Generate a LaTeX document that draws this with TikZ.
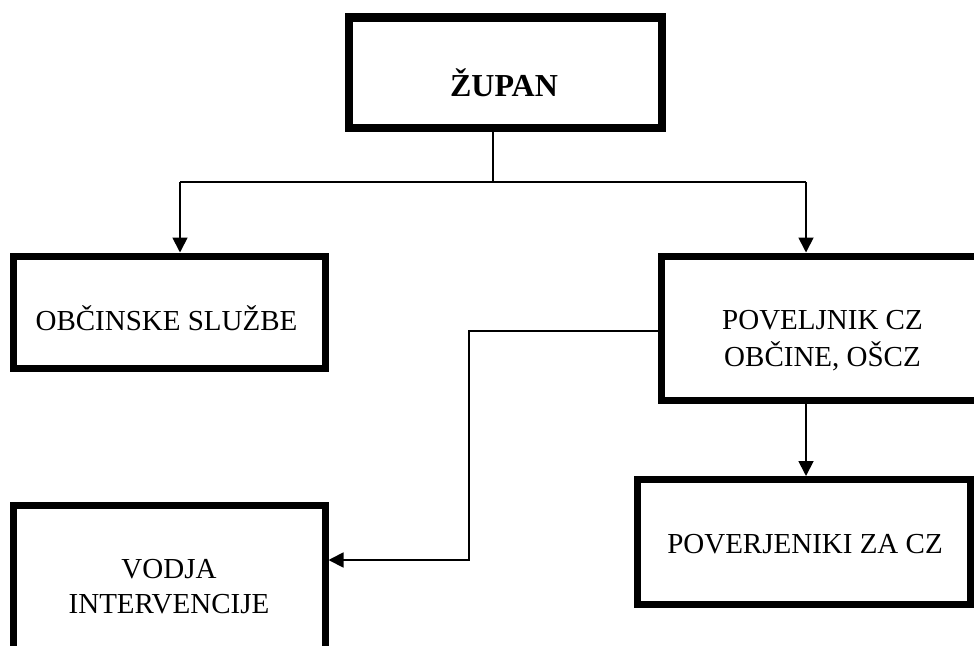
\documentclass[tikz,border=0pt]{standalone}
\usepackage{fontspec}
\setmainfont{Liberation Serif}
\usetikzlibrary{arrows.meta}
\tikzset{
  orgbox/.style={draw=black, line width=7pt, outer sep=3.5pt, inner sep=0pt, fill=white},
  topbox/.style={draw=black, line width=8.5pt, outer sep=4.25pt, inner sep=0pt, fill=white},
  lbl/.style={font=\fontsize{29pt}{35pt}\selectfont, anchor=base, inner sep=0pt},
  toplbl/.style={font=\fontsize{32pt}{38pt}\selectfont\bfseries, anchor=base, inner sep=0pt},
  conn/.style={line width=1.8pt, draw=black},
  arr/.style={conn, -{Triangle[length=15pt,width=15pt]}}
}
\begin{document}
\begin{tikzpicture}[x=1pt,y=-1pt]
\useasboundingbox (0,0) rectangle (974,645);
\clip (0,0) rectangle (974,645);
\fill[white] (0,0) rectangle (974,645);
% boxes
\node[topbox, minimum width=313pt, minimum height=110.5pt] (zupan) at (505.5,72.75) {};
\node[orgbox, minimum width=311.5pt, minimum height=112.5pt] (obc) at (169.25,312.25) {};
\node[orgbox, minimum width=321.5pt, minimum height=144pt] (pov) at (822.25,328) {};
\node[orgbox, minimum width=311.5pt, minimum height=147pt] (vodja) at (169.25,578.5) {};
\node[orgbox, minimum width=333pt, minimum height=125pt] (povj) at (804,542) {};
% texts
\node[toplbl] (tzupan) at (504,96.5) {ŽUPAN};
\node[lbl] (tobc) at (166.5,330) {OBČINSKE SLUŽBE};
\node[lbl] (tpov1) at (822.5,329) {POVELJNIK CZ};
\node[lbl] (tpov2) at (822.5,366) {OBČINE, OŠCZ};
\node[lbl] (tvod1) at (169,578) {VODJA};
\node[lbl] (tvod2) at (169,613) {INTERVENCIJE};
\node[lbl] (tpovj) at (805,553) {POVERJENIKI ZA CZ};
% connector coordinates
\coordinate (j) at (493,182);
\coordinate (ja) at (180,182);
\coordinate (jb) at (806,182);
\coordinate (d) at (806,400);
\coordinate (b1) at (469,331);
\coordinate (b2) at (469,560);
% connectors
\draw[conn] (zupan.south -| j) -- (j);
\draw[conn] (ja) -- (jb);
\draw[arr] (ja) -- (obc.north -| ja);
\draw[arr] (jb) -- (pov.north -| jb);
\draw[arr] (pov.south -| d) -- (povj.north -| d);
\draw[arr] (pov.west |- b1) -- (b1) -- (b2) -- (vodja.east |- b2);
\end{tikzpicture}
\end{document}
